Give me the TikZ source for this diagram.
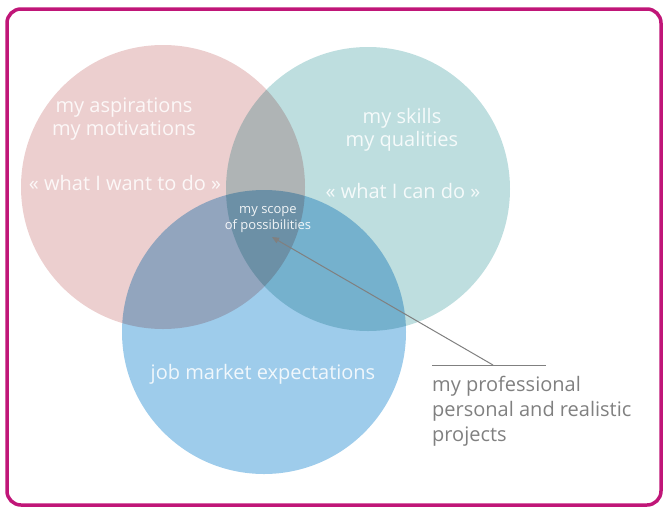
\documentclass[tikz,border=0pt]{standalone}
\usepackage{fontspec}
\setmainfont{Open Sans}
\usepackage{xcolor}
\usepackage{tikz}
\usetikzlibrary{arrows.meta, positioning, calc}

\definecolor{framepink}{RGB}{192,22,120}
\definecolor{aspred}{RGB}{236,207,207}
\definecolor{skillteal}{RGB}{190,222,223}
\definecolor{jobblue}{RGB}{158,204,235}
\definecolor{notegray}{RGB}{128,128,128}

\begin{document}
\begin{tikzpicture}[x=1pt, y=-1pt,
    bubble/.style={circle, minimum size=284pt, inner sep=0pt, blend mode=multiply},
    bigtext/.style={text=white, text opacity=0.85, align=center, inner sep=0pt, font=\fontsize{20}{23}\selectfont},
    smalltext/.style={text=white, text opacity=0.9, align=center, inner sep=0pt, font=\fontsize{13}{16}\selectfont},
    note/.style={text=notegray, align=left, inner sep=0pt, font=\fontsize{20}{25}\selectfont},
    pointer/.style={-{Triangle[length=7pt, width=6pt]}, draw=notegray, line width=1pt}]

    \useasboundingbox (0,0) rectangle (664,507);

    % Frame
    \draw[framepink, line width=3.5pt, rounded corners=14pt] (7,9) rectangle (661,505);

    % The three circles
    \node[bubble, fill=aspred] (asp_circle) at (163,187) {};
    \node[bubble, fill=skillteal] (skill_circle) at (368,189) {};
    \node[bubble, fill=jobblue] (job_circle) at (264,332) {};

    % Circle texts
    \node[bigtext] (asp_text) at (124,119) {my aspirations\\my motivations};
    \node[bigtext] (asp_quote) at (125,183) {« what I want to do »};
    \node[bigtext] (skill_text) at (402,130) {my skills\\my qualities};
    \node[bigtext] (skill_quote) at (403,191) {« what I can do »};
    \node[bigtext] (job_text) at (263,374) {job market expectations};
    \node[smalltext] (scope_text) at (268,220) {my scope\\of possibilities};

    % Note with pointer
    \node[note, anchor=west] (proj_text) at (432,411) {my professional\\personal and realistic\\projects};
    \coordinate (line_left) at (432,365);
    \coordinate (line_right) at (546,365);
    \coordinate (hook) at (493,365);
    \coordinate (scope_tip) at (272,237);
    \draw[notegray, line width=1pt] (line_left) -- (line_right);
    \draw[pointer] (hook) -- (scope_tip);

\end{tikzpicture}
\end{document}
